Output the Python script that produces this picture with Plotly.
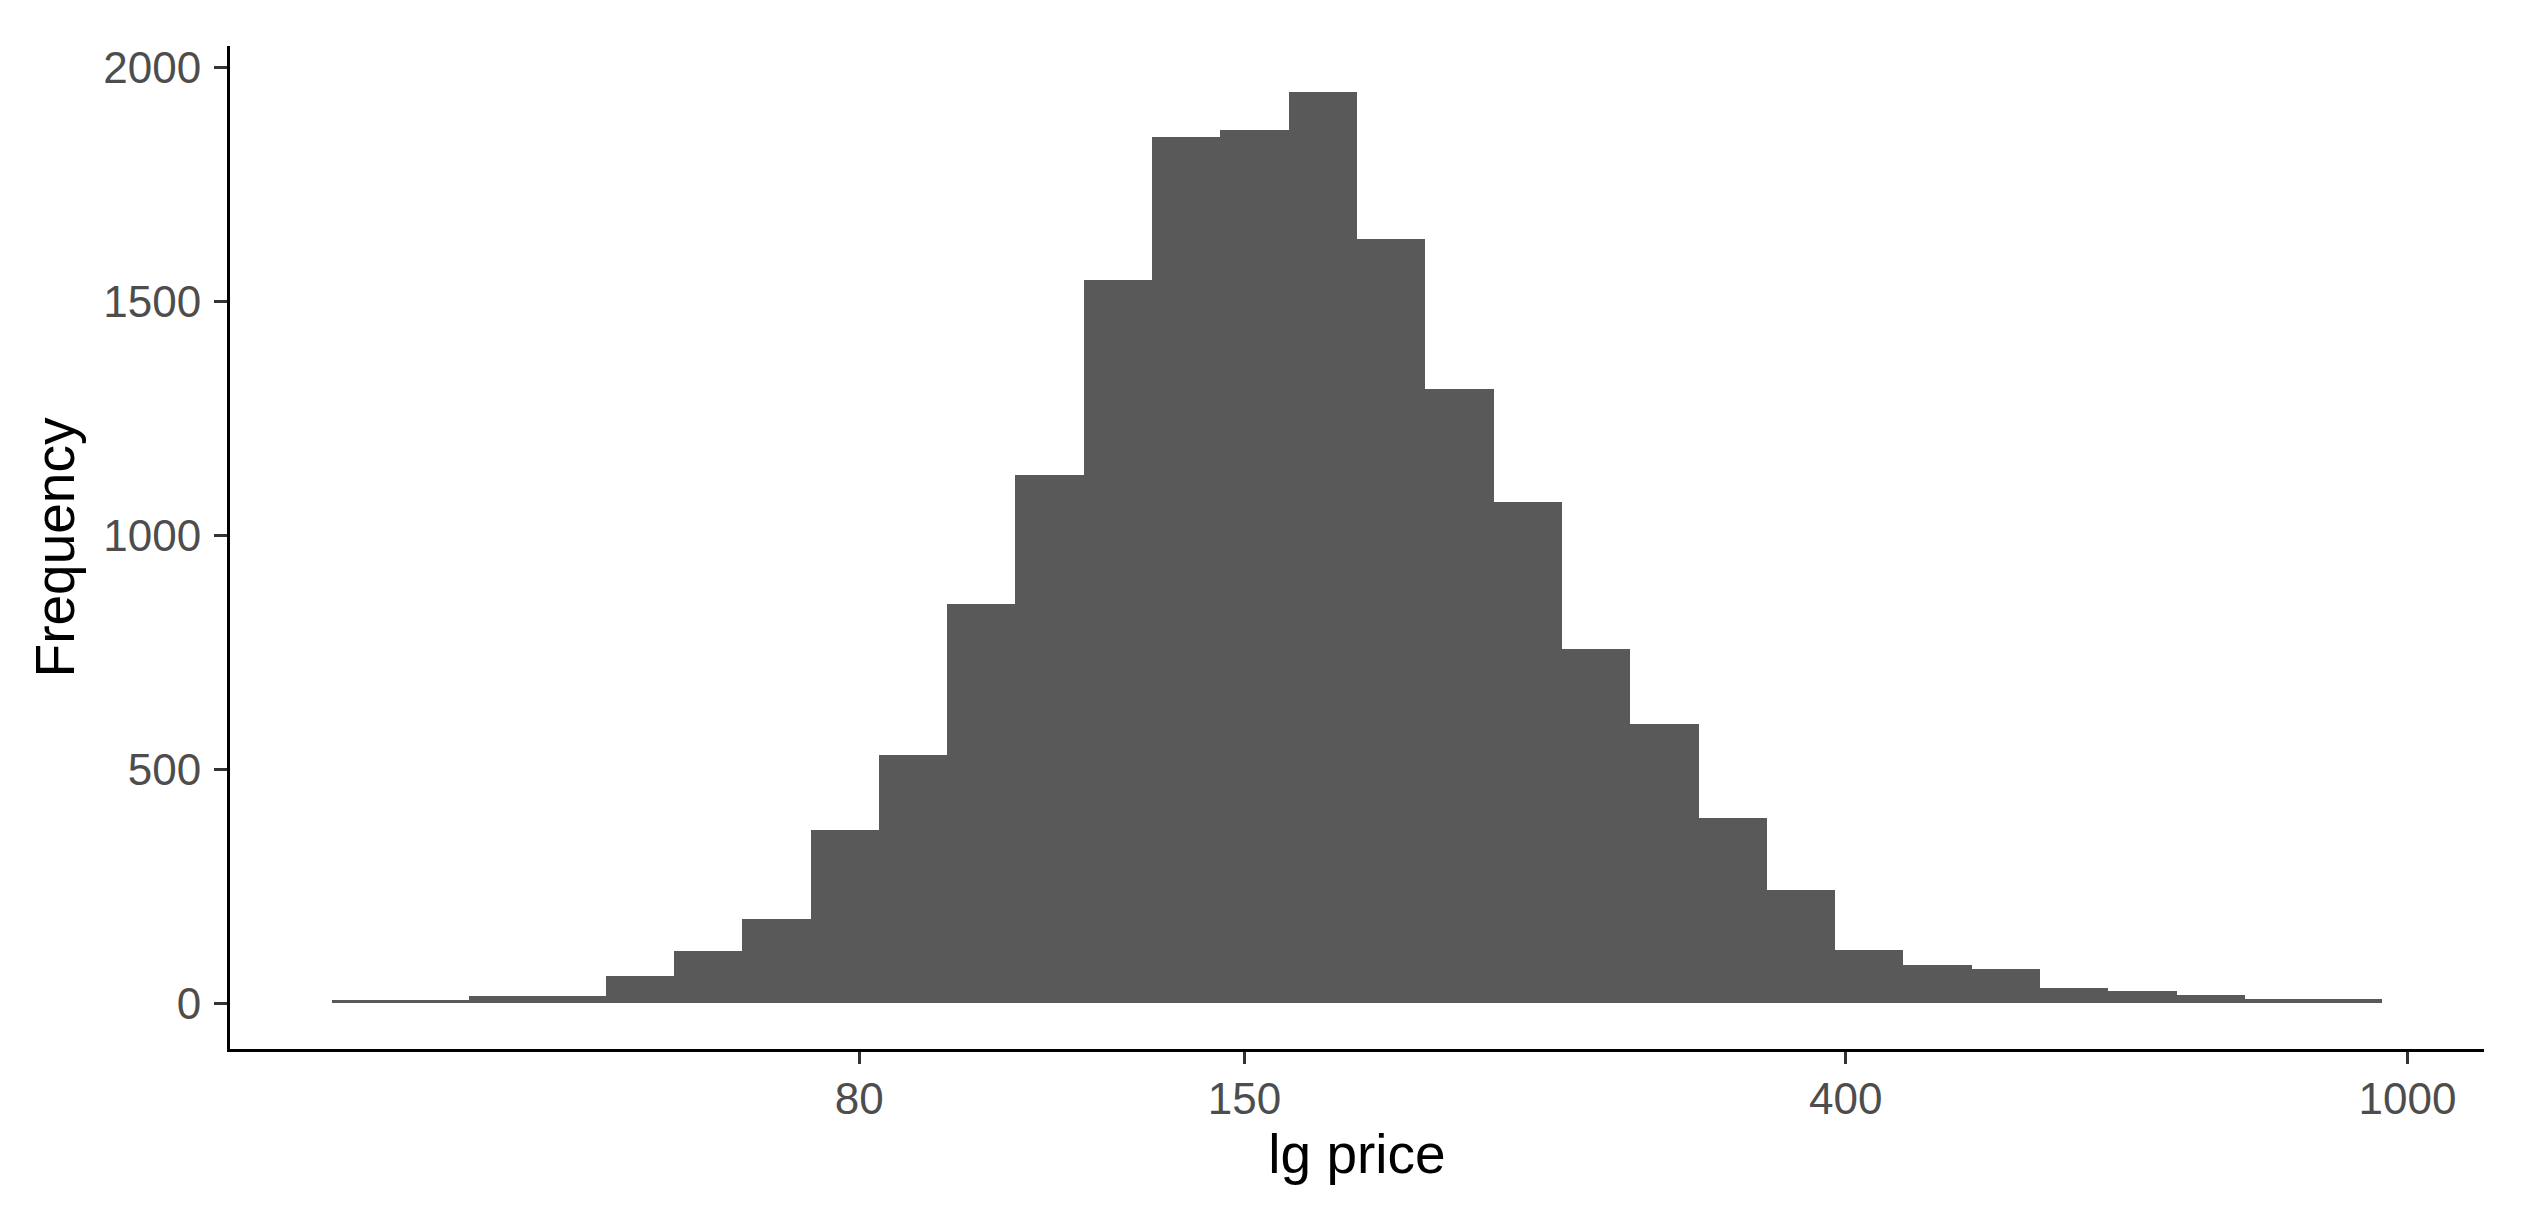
import numpy as np
import plotly.graph_objects as go

# histogram of log10(price), 30 bins
lg_start = 1.5299      # log10 of lower edge of first bin
lg_binwidth = 0.04839  # bin width in log10 units
counts = [8, 8, 16, 16, 59, 113, 180, 370, 531, 853,
          1128, 1546, 1851, 1867, 1948, 1633, 1312, 1071, 758, 596,
          396, 242, 115, 82, 73, 33, 26, 18, 9, 9]
tick_prices = [80, 150, 400, 1000]
y_ticks = [0, 500, 1000, 1500, 2000]

centers = lg_start + lg_binwidth * (np.arange(len(counts)) + 0.5)
lo, hi = lg_start, lg_start + lg_binwidth * len(counts)
span = hi - lo

fig = go.Figure(go.Bar(
    x=centers,
    y=counts,
    width=lg_binwidth,
    marker=dict(color='#595959', line=dict(width=0)),
))

fig.update_layout(
    width=2540, height=1211,
    margin=dict(l=230, r=56, t=46, b=162),
    plot_bgcolor='white', paper_bgcolor='white',
    bargap=0, showlegend=False,
    font=dict(family='Liberation Sans, Arial, sans-serif'),
)
fig.update_xaxes(
    range=[lo - 0.05 * span, hi + 0.05 * span],
    tickvals=np.log10(tick_prices), ticktext=[str(p) for p in tick_prices],
    showline=True, linecolor='black', linewidth=3, mirror=False,
    ticks='outside', ticklen=12, tickwidth=3, tickcolor='#333333',
    tickfont=dict(size=44, color='#4D4D4D'), ticklabelstandoff=-3,
    showgrid=False, zeroline=False, automargin=False,
    title=dict(text='lg price', font=dict(size=55, color='black'), standoff=13),
)
fig.update_yaxes(
    range=[-0.05 * max(counts), 1.05 * max(counts)],
    tickvals=y_ticks,
    showline=True, linecolor='black', linewidth=3,
    ticks='outside', ticklen=13, tickwidth=3, tickcolor='#333333',
    tickfont=dict(size=44, color='#4D4D4D'), ticklabelstandoff=4,
    showgrid=False, zeroline=False, automargin=False,
    title=dict(text='Frequency', font=dict(size=55, color='black'), standoff=12),
)

# drop the default page margin so the figure sits at the window's corner
fig.write_html("out.html", config={'displayModeBar': False},
               post_script="document.body.style.margin='0';")
